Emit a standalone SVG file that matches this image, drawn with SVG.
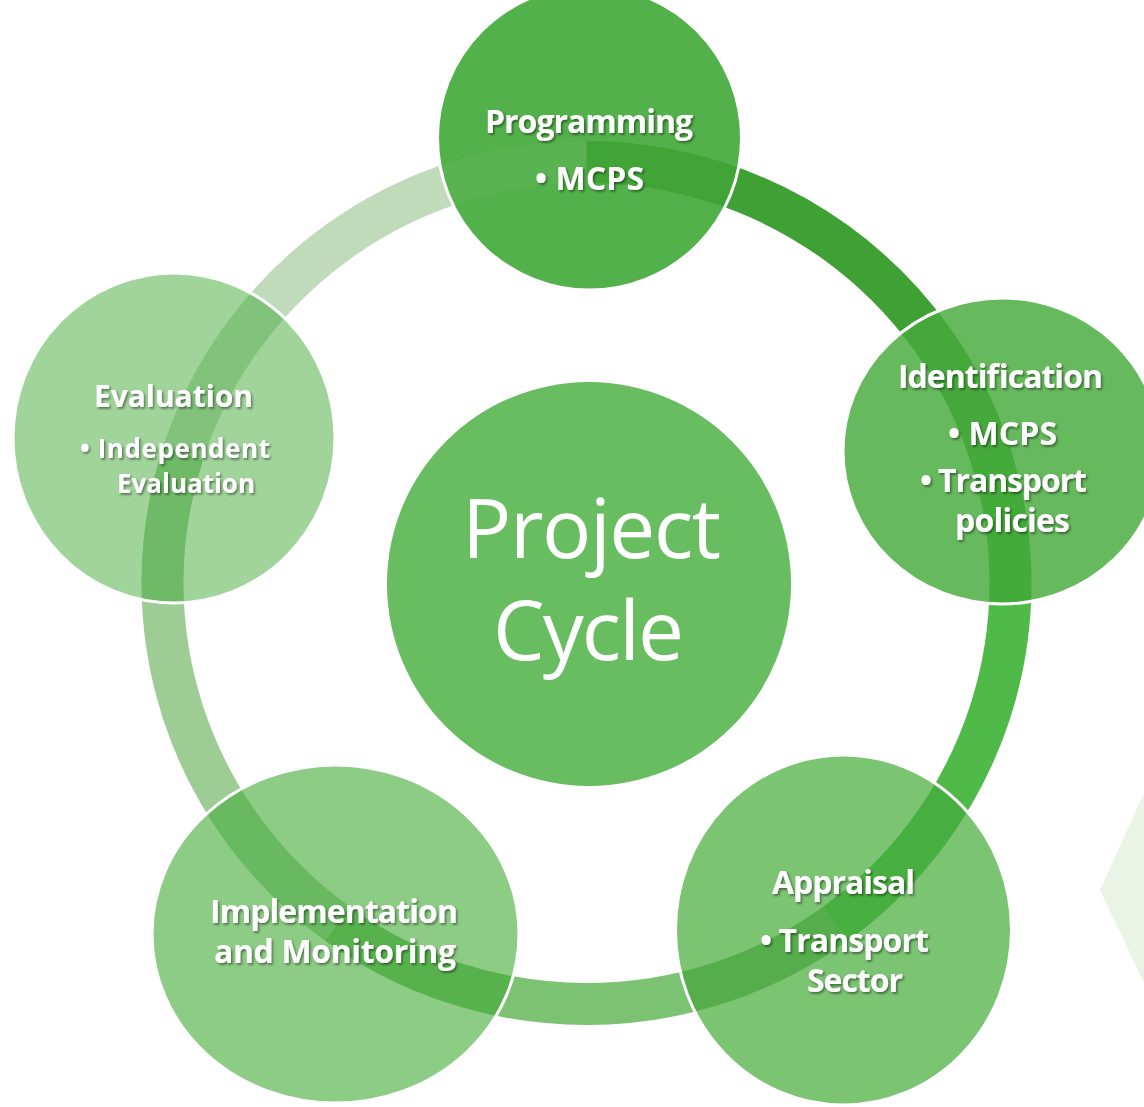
<svg xmlns="http://www.w3.org/2000/svg" xmlns:xlink="http://www.w3.org/1999/xlink" width="1144" height="1107" viewBox="0 0 1144 1107">
<style>
.seg{fill:none;stroke-width:42}
.edge{fill:none;stroke:#ffffff;stroke-width:3}
.lbl{font-family:"Open Sans","Liberation Sans",sans-serif;font-weight:700;fill:#ffffff;filter:url(#sh)}
.title{font-family:"Open Sans","Liberation Sans",sans-serif;font-weight:400;fill:#ffffff;font-size:82px}
</style>
<defs>
<filter id="sh" x="-10%" y="-30%" width="120%" height="160%">
<feDropShadow dx="1.5" dy="1.8" stdDeviation="1.2" flood-color="#000000" flood-opacity="0.45"/>
</filter>
<path id="s0" d="M586.5 162 A424 421 0 0 1 989.75 452.9"/>
<path id="s1" d="M989.75 452.9 A424 421 0 0 1 835.72 923.6"/>
<path id="s2" d="M835.72 923.6 A424 421 0 0 1 337.28 923.6"/>
<path id="s3" d="M337.28 923.6 A424 421 0 0 1 183.25 452.9"/>
<path id="s4" d="M183.25 452.9 A424 421 0 0 1 586.5 162"/>
<clipPath id="cProg"><circle cx="589.5" cy="138" r="152"/></clipPath>
<clipPath id="cIdent"><ellipse cx="1002" cy="451" rx="159" ry="153"/></clipPath>
<clipPath id="cAppr"><ellipse cx="843.5" cy="930" rx="168" ry="175"/></clipPath>
<clipPath id="cImpl"><ellipse cx="335.5" cy="934" rx="183.5" ry="169"/></clipPath>
<clipPath id="cEval"><ellipse cx="174" cy="438" rx="161" ry="165"/></clipPath>
</defs>
<rect width="1144" height="1107" fill="#ffffff"/>
<polygon points="1144,793 1100,890 1144,983" fill="#e9f4e6"/>
<g id="connectors">
<use xlink:href="#s0" class="seg" stroke="#3fa034"/>
<use xlink:href="#s1" class="seg" stroke="#4fba47"/>
<use xlink:href="#s2" class="seg" stroke="#7bc372"/>
<use xlink:href="#s3" class="seg" stroke="#9dcc95"/>
<use xlink:href="#s4" class="seg" stroke="#c0dbba"/>
</g>
<g id="center">
<circle cx="589" cy="584" r="202" fill="#68bd60"/>
<text class="title" x="591.5" y="558" text-anchor="middle" textLength="259">Project</text>
<text class="title" x="588.5" y="660" text-anchor="middle" textLength="191">Cycle</text>
</g>
<g id="programming">
<circle cx="589.5" cy="138" r="152" fill="#53b14b"/>
<g clip-path="url(#cProg)">
<use xlink:href="#s4" class="seg" stroke="#58b350"/>
<use xlink:href="#s0" class="seg" stroke="#41a436"/>
</g>
<circle class="edge" cx="589.5" cy="138" r="152"/>
<text class="lbl" x="485" y="133" font-size="32" textLength="208">Programming</text>
<text class="lbl" x="535" y="190" font-size="32" textLength="109">• MCPS</text>
</g>
<g id="identification">
<ellipse cx="1002" cy="451" rx="159" ry="153" fill="#66b95d"/>
<g clip-path="url(#cIdent)">
<use xlink:href="#s0" class="seg" stroke="#45a83b"/>
<use xlink:href="#s1" class="seg" stroke="#43ab3a"/>
</g>
<ellipse class="edge" cx="1002" cy="451" rx="159" ry="153"/>
<text class="lbl" x="898" y="388" font-size="32" textLength="205">Identification</text>
<text class="lbl" x="948" y="445" font-size="32" textLength="109">• MCPS</text>
<text class="lbl" x="920" y="492" font-size="32" textLength="167">• Transport</text>
<text class="lbl" x="955" y="532" font-size="32" textLength="115">policies</text>
</g>
<g id="appraisal">
<ellipse cx="843.5" cy="930" rx="168" ry="175" fill="#7bc472"/>
<g clip-path="url(#cAppr)">
<use xlink:href="#s1" class="seg" stroke="#47af3f"/>
<use xlink:href="#s2" class="seg" stroke="#55ae4b"/>
</g>
<ellipse class="edge" cx="843.5" cy="930" rx="168" ry="175"/>
<text class="lbl" x="772" y="894" font-size="32" textLength="143">Appraisal</text>
<text class="lbl" x="760" y="952" font-size="32" textLength="169">• Transport</text>
<text class="lbl" x="807" y="992" font-size="32" textLength="96">Sector</text>
</g>
<g id="implementation">
<ellipse cx="335.5" cy="934" rx="183.5" ry="169" fill="#8dcc85"/>
<g clip-path="url(#cImpl)">
<use xlink:href="#s2" class="seg" stroke="#57b24e"/>
<use xlink:href="#s3" class="seg" stroke="#68b960"/>
</g>
<ellipse class="edge" cx="335.5" cy="934" rx="183.5" ry="169"/>
<text class="lbl" x="210" y="923" font-size="32" textLength="248">Implementation</text>
<text class="lbl" x="214" y="963" font-size="32" textLength="242">and Monitoring</text>
</g>
<g id="evaluation">
<ellipse cx="174" cy="438" rx="161" ry="165" fill="#a0d49a"/>
<g clip-path="url(#cEval)">
<use xlink:href="#s3" class="seg" stroke="#6eba66"/>
<use xlink:href="#s4" class="seg" stroke="#82c37b"/>
</g>
<ellipse class="edge" cx="174" cy="438" rx="161" ry="165"/>
<text class="lbl" x="94" y="407" font-size="30" textLength="159">Evaluation</text>
<text class="lbl" x="80" y="458" font-size="26" textLength="190">• Independent</text>
<text class="lbl" x="117" y="493" font-size="26" textLength="138">Evaluation</text>
</g>
</svg>
